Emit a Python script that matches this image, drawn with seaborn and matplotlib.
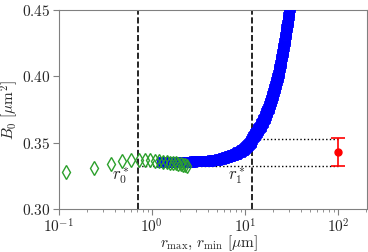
import matplotlib
matplotlib.use("Agg")
import matplotlib.pyplot as plt
from matplotlib.ticker import FixedLocator, FuncFormatter, LogLocator, NullFormatter
import numpy as np
import pandas as pd
import seaborn as sns

# r_min scan (green diamonds)
r_min = [0.12, 0.24, 0.36, 0.48, 0.60, 0.72, 0.84, 0.96, 1.08, 1.20,
         1.32, 1.44, 1.56, 1.68, 1.80, 1.92, 2.04, 2.16, 2.28, 2.40]
b0_min = [0.3275, 0.3310, 0.3340, 0.3360, 0.3370, 0.3372, 0.3370, 0.3368, 0.3365, 0.3361,
          0.3357, 0.3353, 0.3350, 0.3347, 0.3343, 0.3340, 0.3337, 0.3333, 0.3330, 0.3326]

# r_max scan (blue squares)
r_max = [1.3, 1.4, 1.5, 1.6, 1.7, 1.8, 1.9, 2.0, 2.1, 2.25, 2.4, 2.55, 2.7, 2.85, 3.0,
         3.2, 3.4, 3.6, 3.8, 4.0, 4.2, 4.4, 4.6, 4.8, 5.0, 5.25, 5.5, 5.75, 6.0,
         6.25, 6.5, 6.75, 7.0, 7.25, 7.5, 7.75, 8.0, 8.25, 8.5, 8.75, 9.0, 9.25, 9.5,
         9.75, 10.0, 10.25, 10.5, 10.75, 11.0, 11.25, 11.5, 11.75,
         12.0, 12.25, 12.5, 12.75, 13.0, 13.25, 13.5, 13.75, 14.0, 14.25, 14.5, 14.75,
         15.0, 15.25, 15.5, 15.75, 16.0, 16.25, 16.5, 16.75, 17.0, 17.25, 17.5, 17.75,
         18.0, 18.25, 18.5, 18.75, 19.0, 19.25, 19.5, 19.75, 20.0, 20.25, 20.5, 20.75,
         21.0, 21.25, 21.5, 21.75, 22.0, 22.25, 22.5, 22.75, 23.0, 23.25, 23.5, 23.75,
         24.0, 24.25, 24.5, 24.75, 25.0, 25.25, 25.5, 25.75, 26.0, 26.25, 26.5, 26.75,
         27.0, 27.25, 27.5, 27.75, 28.0, 28.25, 28.5, 28.75, 29.0, 29.25, 29.5, 29.75,
         30.0, 30.25, 30.5, 30.75, 31.0]
b0_max = [0.3355, 0.3355, 0.3355, 0.3355, 0.3355, 0.3355, 0.3355, 0.3355, 0.3355, 0.3356,
          0.3356, 0.3357, 0.3357, 0.3358, 0.3358, 0.3359, 0.3360, 0.3361, 0.3362, 0.3363,
          0.3365, 0.3366, 0.3368, 0.3370, 0.3372, 0.3375, 0.3378, 0.3381, 0.3385,
          0.3388, 0.3392, 0.3396, 0.3400, 0.3404, 0.3408, 0.3412, 0.3417, 0.3422, 0.3427,
          0.3432, 0.3437, 0.3442, 0.3448, 0.3454, 0.3460, 0.3466, 0.3473, 0.3480, 0.3487,
          0.3494, 0.3502, 0.3512,
          0.3525, 0.3540, 0.3550, 0.3558, 0.3566, 0.3575, 0.3583, 0.3592, 0.3601, 0.3610,
          0.3619, 0.3628, 0.3638, 0.3648, 0.3658, 0.3667, 0.3678, 0.3688, 0.3698, 0.3709,
          0.3720, 0.3731, 0.3742, 0.3753, 0.3765, 0.3776, 0.3788, 0.3800, 0.3812, 0.3824,
          0.3837, 0.3849, 0.3862, 0.3875, 0.3888, 0.3901, 0.3915, 0.3928, 0.3942, 0.3956,
          0.3970, 0.3984, 0.3998, 0.4012, 0.4027, 0.4042, 0.4057, 0.4072, 0.4087, 0.4103,
          0.4118, 0.4134, 0.4150, 0.4166, 0.4182, 0.4199, 0.4215, 0.4232, 0.4249, 0.4266,
          0.4283, 0.4300, 0.4318, 0.4336, 0.4354, 0.4372, 0.4390, 0.4408, 0.4426, 0.4445,
          0.4464, 0.4483, 0.4502, 0.4521, 0.4541, 0.4560, 0.4580]

# reference value with error bar
ref_r = [100.0]
ref_b0 = [0.343]
ref_err = [0.0105]

r0_star = 0.71
r1_star = 11.9
b0_low = 0.332
b0_high = 0.353

sns.set_style("ticks")
plt.rcParams["font.family"] = ["DejaVu Serif"]
plt.rcParams["mathtext.fontset"] = "cm"

fig, ax = plt.subplots(figsize=(3.68, 2.52), dpi=100)
fig.subplots_adjust(left=0.160, right=0.997, bottom=0.171, top=0.960)

df_max = pd.DataFrame({"r": r_max, "B0": b0_max})
df_min = pd.DataFrame({"r": r_min, "B0": b0_min})

sns.lineplot(data=df_max, x="r", y="B0", marker="s", linestyle="none",
             markerfacecolor="none", markeredgecolor="blue", markeredgewidth=2.0,
             markersize=6.3, color="blue", ax=ax, zorder=3)
sns.lineplot(data=df_min, x="r", y="B0", marker="d", linestyle="none",
             markerfacecolor="none", markeredgecolor="#2ca02c", markeredgewidth=1.0,
             markersize=7.5, color="#2ca02c", ax=ax, zorder=4)

ax.errorbar(ref_r, ref_b0, yerr=ref_err, fmt="o", color="red", ms=5,
            capsize=5, elinewidth=1.2, capthick=1.2, zorder=5)

ax.axvline(r0_star, color="black", ls="--", lw=1.2, zorder=2)
ax.axvline(r1_star, color="black", ls="--", lw=1.2, zorder=2)
ax.plot([r0_star, ref_r[0]], [b0_low, b0_low], color="black", ls=":", lw=1.0, zorder=2)
ax.plot([r1_star, ref_r[0]], [b0_high, b0_high], color="black", ls=":", lw=1.0, zorder=2)

ax.text(0.46, 0.3245, r"$r_0^*$", fontsize=12, ha="center", va="center")
ax.text(8.2, 0.3245, r"$r_1^*$", fontsize=12, ha="center", va="center")

ax.set_xscale("log")
ax.set_xlim(0.1, 205)
ax.set_ylim(0.30, 0.45)
ax.xaxis.set_major_locator(FixedLocator([0.1, 1, 10, 100]))
ax.xaxis.set_major_formatter(FuncFormatter(lambda v, p: r"$10^{%d}$" % round(np.log10(v))))
ax.xaxis.set_minor_locator(LogLocator(base=10, subs=np.arange(2, 10)))
ax.xaxis.set_minor_formatter(NullFormatter())
ax.yaxis.set_major_locator(FixedLocator([0.30, 0.35, 0.40, 0.45]))
ax.yaxis.set_major_formatter(FuncFormatter(lambda v, p: r"$%.2f$" % v))

ax.set_xlabel(r"$r_{\rm max},\, r_{\rm min}\ [\mu{\rm m}]$", fontsize=11)
ax.set_ylabel(r"$B_0\ [\mu{\rm m}^2]$", fontsize=11)
ax.xaxis.set_label_coords(0.487, -0.125)
ax.yaxis.set_label_coords(-0.125, 0.5)
ax.tick_params(axis="both", which="major", labelsize=11, color="gray", length=4, pad=2)
ax.tick_params(axis="x", which="minor", color="gray", length=2)
for s in ax.spines.values():
    s.set_visible(True)
    s.set_color("gray")

fig.savefig("out.png", dpi=100)
